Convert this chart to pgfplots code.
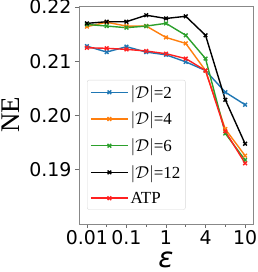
\documentclass[border=0pt]{standalone}
\usepackage{pgfplots}
\pgfplotsset{compat=1.18}
\usepackage{fontspec}
\setmainfont{Liberation Serif}
\newfontfamily\djv{DejaVu Sans}
\definecolor{tabblue}{HTML}{1F77B4}
\definecolor{taborange}{HTML}{FF7F0E}
\definecolor{tabgreen}{HTML}{2CA02C}
\definecolor{myred}{HTML}{FF2020}
\definecolor{spine}{HTML}{888888}
\begin{document}
\begin{tikzpicture}
\begin{axis}[
  scale only axis,
  width=174bp, height=218bp,
  xmin=-0.4, xmax=8.4,
  ymin=0.18, ymax=0.2202,
  axis line style={spine, line width=0.9bp},
  xtick={0,2,4,6,8},
  xticklabels={0.01,0.1,1,4,10},
  minor xtick={1,3,5,7},
  ytick={0.19,0.20,0.21,0.22},
  yticklabels={0.19,0.20,0.21,0.22},
  tick align=outside,
  xtick pos=bottom, ytick pos=left,
  major tick length=4bp, minor tick length=3bp,
  tick style={spine!80!black, line width=0.8bp},
  tick label style={font=\djv\fontsize{19}{19}\selectfont, text=black},
  /pgf/number format/assume math mode=true,
  xticklabel style={yshift=1bp, inner xsep=0pt},
  xlabel={\djv\itshape\fontsize{28}{28}\selectfont ε},
  xlabel style={at={(axis description cs:0.5,0)}, anchor=base, yshift=-43.5bp, inner sep=0pt},
  ylabel={\fontsize{27}{27}\selectfont NE},
  ylabel style={at={(axis description cs:0,0.5)}, anchor=center, yshift=68bp},
  every axis plot/.append style={line width=1.4bp, mark=x, mark size=2.6bp},
  legend style={
    at={(axis description cs:0.046,0.661)}, anchor=north west,
    draw=gray!30, rounded corners=2bp, fill=white, fill opacity=0.8, text opacity=1,
    font=\fontsize{17}{17}\selectfont,
    inner xsep=3bp, inner ysep=3bp,
    row sep=8.3bp,
    legend cell align=left,
  },
  legend image code/.code={%
    \draw[mark repeat=2, mark phase=2, #1] plot coordinates {(0bp,0bp) (18.5bp,0bp) (37bp,0bp)};%
  },
]
\addplot[color=tabblue] coordinates {
(0,0.2128) (1,0.2117) (2,0.2127) (3,0.2117) (4,0.2112) (5,0.2099) (6,0.2083) (7,0.2043) (8,0.2020)};
\addlegendentry{$|\mathcal{D}|$=2}
\addplot[color=taborange] coordinates {
(0,0.2164) (1,0.2172) (2,0.2165) (3,0.2165) (4,0.2144) (5,0.2133) (6,0.2083) (7,0.1975) (8,0.1926)};
\addlegendentry{$|\mathcal{D}|$=4}
\addplot[color=tabgreen] coordinates {
(0,0.2168) (1,0.2165) (2,0.2162) (3,0.2165) (4,0.2170) (5,0.2148) (6,0.2105) (7,0.1967) (8,0.1918)};
\addlegendentry{$|\mathcal{D}|$=6}
\addplot[color=black] coordinates {
(0,0.2170) (1,0.2173) (2,0.2173) (3,0.2185) (4,0.2179) (5,0.2183) (6,0.2148) (7,0.2029) (8,0.1948)};
\addlegendentry{$|\mathcal{D}|$=12}
\addplot[color=myred] coordinates {
(0,0.2125) (1,0.2124) (2,0.2122) (3,0.2119) (4,0.2114) (5,0.2105) (6,0.2083) (7,0.1971) (8,0.1912)};
\addlegendentry{ATP}
\end{axis}
\pgfresetboundingbox
\path (-79bp,-48bp) rectangle (179bp,224bp);
\end{tikzpicture}
\end{document}
